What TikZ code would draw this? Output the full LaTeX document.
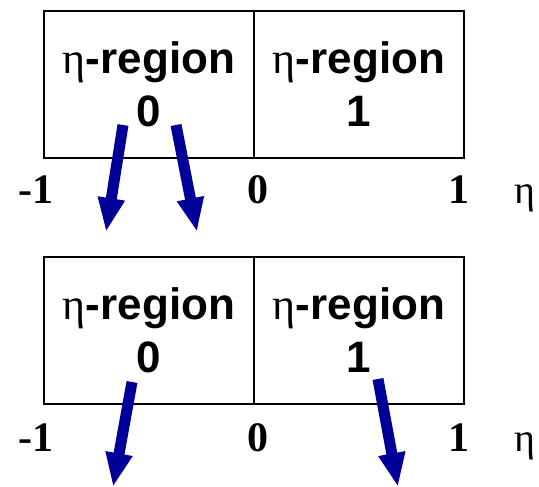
\documentclass[tikz,border=0pt]{standalone}
\usepackage{fontspec}
\setmainfont{Liberation Sans}
\newfontfamily\timesfont{Liberation Serif}
\usetikzlibrary{arrows.meta}
\definecolor{arrowblue}{RGB}{0,0,153}
\newcommand{\etasym}{{\timesfont\mdseries η}}
\tikzset{
  cell/.style={draw, line width=2.2pt, minimum width=210pt, minimum height=147pt,
    inner sep=0pt, align=center, font=\fontsize{44}{53}\selectfont\bfseries},
  ticklabel/.style={anchor=base, font=\fontsize{42}{42}\selectfont\timesfont\bfseries},
  move/.style={arrowblue, line width=11pt, -{Triangle[length=34pt,width=25pt]}}
}
\begin{document}
\begin{tikzpicture}[x=1pt,y=-1pt]
  \useasboundingbox (0,0) rectangle (539,487);
  % upper panel: both moves stay in region 0
  \node[cell] (top0) at (149,84.5) {\etasym-region\\0};
  \node[cell] (top1) at (359,84.5) {\etasym-region\\1};
  \node[ticklabel] (tm1) at (36,203) {-1};
  \node[ticklabel] (tz) at (258,203) {0};
  \node[ticklabel] (tp1) at (459,203) {1};
  \node[ticklabel, anchor=base west, inner sep=0pt, font=\fontsize{40}{40}\selectfont\timesfont] (teta) at (514,203) {η};
  \coordinate (a1) at (123,125); \coordinate (b1) at (106,232);
  \coordinate (a2) at (176,125); \coordinate (b2) at (197,232);
  \draw[move] (a1) -- (b1);
  \draw[move] (a2) -- (b2);
  % lower panel: one move in each region
  \node[cell] (bot0) at (149,330.5) {\etasym-region\\0};
  \node[cell] (bot1) at (359,330.5) {\etasym-region\\1};
  \node[ticklabel] (bm1) at (36,451) {-1};
  \node[ticklabel] (bz) at (258,451) {0};
  \node[ticklabel] (bp1) at (459,451) {1};
  \node[ticklabel, anchor=base west, inner sep=0pt, font=\fontsize{40}{40}\selectfont\timesfont] (beta) at (514,451) {η};
  \coordinate (c1) at (132,382); \coordinate (d1) at (113,487);
  \coordinate (c2) at (378,379); \coordinate (d2) at (398,487);
  \draw[move] (c1) -- (d1);
  \draw[move] (c2) -- (d2);
\end{tikzpicture}
\end{document}
